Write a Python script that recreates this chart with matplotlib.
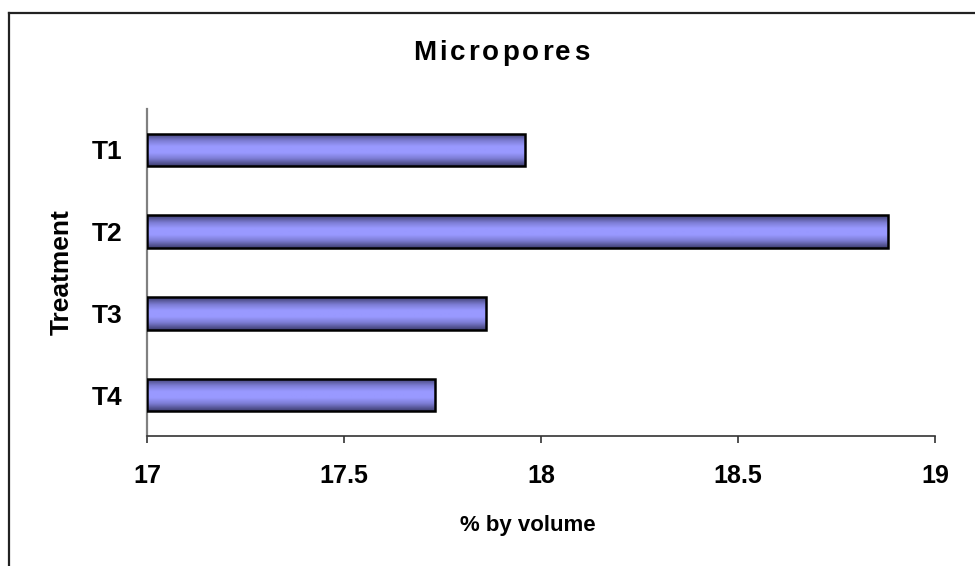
"""Micropores horizontal bar chart (Excel-style gradient bars)."""

import numpy as np
import matplotlib

matplotlib.use("Agg")
import matplotlib.pyplot as plt
from matplotlib.colors import LinearSegmentedColormap
from matplotlib.lines import Line2D

treatments = ["T1", "T2", "T3", "T4"]
micropores = [17.96, 18.88, 17.86, 17.73]
x_ticks = [17, 17.5, 18, 18.5, 19]
x_tick_labels = ["17", "17.5", "18", "18.5", "19"]

X_MIN = 17
FONT = "Liberation Sans"
W, H = 975, 566

plt.rcParams["font.family"] = [FONT, "DejaVu Sans"]


def spaced_text(fig, xc, yc, s, gap, **kw):
    """Centered text with extra letter spacing (pixel units)."""
    r = fig.canvas.get_renderer()
    arts = [fig.text(0, yc / H, ch, va="center", ha="left", **kw) for ch in s]
    widths = [a.get_window_extent(r).width for a in arts]
    x = xc - (sum(widths) + gap * (len(s) - 1)) / 2
    for a, w in zip(arts, widths):
        a.set_x(x / W)
        x += w + gap


fig = plt.figure(figsize=(W / 100, H / 100), dpi=100)
fig.patch.set_facecolor("white")
ax = fig.add_axes([147 / W, 1 - 436 / H, 788 / W, 327 / H])

# vertical shading: dark at the top/bottom edge, light in the middle
cmap = LinearSegmentedColormap.from_list(
    "bar", [(0, "#3e3e70"), (0.45, "#7d7dd4"), (0.8, "#9999ff"), (1, "#9999ff")])
grad = 1 - np.abs(np.linspace(-1, 1, 64))[:, None]

height = 0.4
ypos = np.arange(len(treatments))
widths = [v - X_MIN for v in micropores]
bars = ax.barh(ypos, widths, left=X_MIN, height=height,
               facecolor="none", edgecolor="black", linewidth=1.8, zorder=4)
for bar in bars:
    x0, y0 = bar.get_x(), bar.get_y()
    im = ax.imshow(grad, cmap=cmap, aspect="auto", zorder=3,
                   extent=(x0, x0 + bar.get_width(), y0 + height, y0),
                   vmin=0, vmax=1, interpolation="bilinear")
    im.set_clip_path(bar)

ax.set_xlim(17, 19)
ax.set_ylim(len(treatments) - 0.5, -0.5)
ax.set_xticks(x_ticks)
ax.set_xticklabels(x_tick_labels, fontsize=18, fontweight="bold")
ax.set_yticks(ypos)
ax.set_yticklabels(treatments, fontsize=19, fontweight="bold")
ax.tick_params(axis="x", direction="out", length=5, width=1.2,
               color="#333333", pad=15)
ax.tick_params(axis="y", length=0, pad=18)

for side in ("top", "right"):
    ax.spines[side].set_visible(False)
ax.spines["left"].set_color("#808080")
ax.spines["left"].set_linewidth(1.6)
ax.spines["bottom"].set_color("#333333")
ax.spines["bottom"].set_linewidth(1.2)

spaced_text(fig, 501, H - 53, "Micropores", 3, fontsize=20, fontweight="bold")
fig.text(528 / W, 1 - 526 / H, "% by volume", ha="center", va="center",
         fontsize=16, fontweight="bold")
fig.text(62 / W, 1 - 272 / H, "Treatment", ha="center", va="center",
         rotation=90, fontsize=19, fontweight="bold")

# chart-area frame: only left and top edges fall inside the image
fig.add_artist(Line2D([8.5 / W, 8.5 / W], [0, 1 - 12.5 / H],
                      color="#222222", lw=1.6, transform=fig.transFigure))
fig.add_artist(Line2D([8.5 / W, 1], [1 - 12.5 / H, 1 - 12.5 / H],
                      color="#222222", lw=1.6, transform=fig.transFigure))

fig.savefig("out.png", dpi=100, facecolor="white")
plt.close(fig)
